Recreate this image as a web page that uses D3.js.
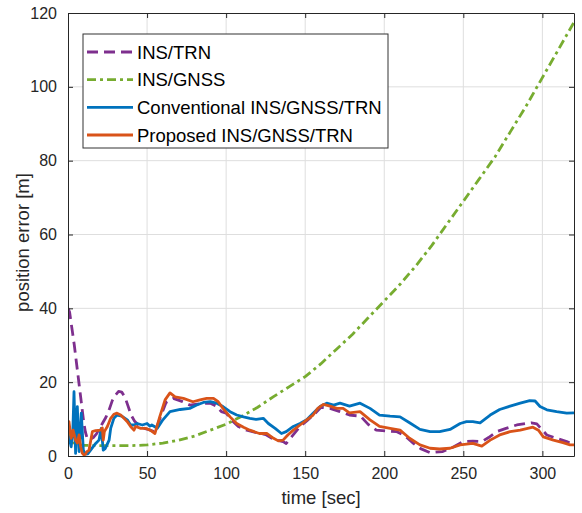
<!DOCTYPE html>
<html>
<head>
<meta charset="utf-8">
<script src="https://cdn.jsdelivr.net/npm/d3@7"></script>
<style>
  html, body { margin: 0; padding: 0; background: #fff; }
  svg { display: block; font-family: "Liberation Sans", Arial, Helvetica, sans-serif; }
</style>
</head>
<body>
<div id="chart"></div>
<script>
// Series (time in sec, error in m)
const SERIES_NAMES = ["INS/TRN", "INS/GNSS", "Conventional INS/GNSS/TRN", "Proposed INS/GNSS/TRN"];

const trnT = [0, 1, 2, 3, 4, 5, 6, 7, 8, 9, 10, 11, 12, 14, 16, 18, 20, 22, 24, 26, 28, 30, 32, 34, 36, 38, 40, 42, 46, 50, 55, 58, 62, 66.6, 72, 77, 84, 90, 94, 97, 100, 104, 107.7, 113, 119.3, 125, 130, 136, 138, 142, 146.7, 151, 155, 160, 165.7, 172, 178, 185, 190, 195, 201, 208, 213, 218.5, 223, 229, 237, 244, 250, 256, 261.7, 266, 271, 277, 283.8, 293, 296.5, 302.8, 309, 315.4, 320];
const trnV = [40, 39, 36, 33, 30, 26.5, 23, 19.5, 16, 12.5, 9, 6.5, 5, 4.5, 5, 6, 7.5, 9, 10.5, 12.5, 15, 16.5, 17.5, 17.3, 16, 13.5, 11, 9.5, 7.8, 7.3, 6.5, 10, 14.5, 15.6, 14.8, 13.8, 14.2, 14.3, 13.5, 12, 11.6, 9.5, 8, 7, 6.3, 5.8, 4.5, 3.9, 3.4, 5.5, 8, 9.5, 11, 13.2, 12.9, 12, 11.1, 10.8, 8.5, 7, 6.8, 6.6, 5.5, 3.4, 2, 0.9, 1.2, 2.5, 3.9, 4, 3.9, 5, 6.6, 7.5, 8.4, 9, 8.7, 5.7, 4.8, 3.9, 3];

const gnssT = [0, 1, 2, 3, 4, 5, 7, 10, 20, 30, 40, 50, 60, 70, 80, 90, 100, 110, 120, 130, 140, 150, 160, 170, 180, 190, 200, 210, 220, 230, 240, 250, 260, 270, 280, 290, 300, 310, 320];
const gnssV = [7, 6, 5, 4, 3.5, 3.2, 3, 2.9, 2.8, 2.8, 2.8, 3, 3.5, 4.3, 5.4, 7, 8.6, 10.8, 13.2, 16.1, 18.8, 21.5, 25, 29, 33, 37.5, 42, 46.5, 51.5, 57, 63, 69, 75, 81, 88, 95, 102.5, 110, 117.5];

const convT = [0, 0.6, 2, 3, 3.8, 4.8, 5.9, 7, 8.4, 9.7, 11, 12.5, 14.3, 17.5, 19.6, 21, 22.3, 23.5, 26, 27, 29, 31, 34, 37.5, 39.6, 41.7, 43.8, 47, 50, 51.8, 53, 56.5, 60, 64.5, 71, 77, 81.4, 85.6, 90, 94, 98, 102.5, 106.7, 111, 115, 119, 123.5, 126.7, 131, 135, 138, 142.5, 146.7, 151, 155, 159.4, 163.6, 168, 172, 178, 184.7, 191, 197, 203.7, 210, 216, 222.6, 229, 235, 241.6, 248, 252, 256, 260.6, 267, 273, 279.6, 286, 292, 295.4, 298.5, 302.8, 309, 315.4, 320];
const convV = [4, 5.2, 2.5, 6, 17.4, 0.7, 13.4, 1.2, 11.6, 1.6, 0.5, 0.6, 1.6, 3.4, 4.3, 7.5, 1.6, 2, 4.3, 7.5, 10.2, 11.1, 10.8, 9.8, 8.4, 8.4, 8.8, 8.4, 8.8, 8.1, 8.4, 7.5, 9.8, 12, 12.6, 12.9, 13.8, 14.5, 14.7, 14.3, 13.4, 12, 11.1, 10.6, 10.2, 9.9, 10.2, 8.8, 7.5, 6.1, 6.6, 8, 8.8, 9.8, 11.6, 13.4, 14.3, 13.8, 14.3, 13.5, 14.3, 12.9, 11.1, 10.8, 10.6, 9, 7.2, 6.6, 6.6, 7.2, 8.8, 9.3, 9.3, 9, 11.1, 12.6, 13.5, 14.3, 15, 14.9, 13.4, 12.5, 12, 11.6, 11.7];

const propT = [0, 0.6, 2, 3.2, 4.8, 5.9, 7, 8, 9, 10, 11, 12, 13.3, 15.4, 17.5, 20.6, 21.7, 22.3, 23, 24.9, 27, 29, 31, 33.3, 35.4, 37.5, 39.6, 41.7, 42.8, 46, 49, 52, 55, 58, 61.4, 64.5, 67.7, 73, 79, 83.5, 87.7, 92, 95, 98, 102.5, 106.7, 111, 115, 121, 125.7, 130, 133, 136, 139, 142.5, 146.7, 151, 155, 158, 161.5, 165.7, 170, 174, 178, 184.7, 191, 197, 203.7, 210, 216, 222.6, 229, 235, 241.6, 248, 252, 256, 261.7, 267, 273, 279.6, 286, 294, 297.5, 300.6, 307, 313, 317.5, 320];
const propV = [9, 9.3, 4.8, 7, 4.3, 3.5, 5.7, 2.5, 0.8, 0.3, 0.5, 1.2, 1.6, 6.6, 6.9, 7, 7.6, 4.3, 6.6, 8, 10.2, 11.3, 11.6, 11.1, 10.2, 9.3, 8, 7, 8, 7.5, 7.5, 7, 6.1, 10.6, 15.2, 17.1, 16, 15.6, 14.7, 15.2, 15.6, 15.6, 14.7, 12.9, 10.6, 8.8, 7.8, 7, 6.1, 6.1, 4.8, 4.1, 4.3, 5.7, 7, 8.4, 9.8, 11.1, 12.9, 14, 13.5, 12.9, 12.9, 11.7, 12, 9.8, 8, 7.5, 7, 4.8, 3, 2.1, 1.9, 2.1, 3, 3.2, 3.4, 2.7, 4.3, 5.7, 6.6, 7, 7.8, 7, 5.2, 4.3, 3.6, 3, 3];

const xTicks = [0, 50, 100, 150, 200, 250, 300];
const yTicks = [0, 20, 40, 60, 80, 100, 120];

const W = 582, H = 513;
const margin = { top: 13, right: 8, bottom: 57, left: 68 };
const innerW = W - margin.left - margin.right;
const innerH = H - margin.top - margin.bottom;

const series = [
  { name: SERIES_NAMES[0], t: trnT, v: trnV, color: "#7E2F8E", dash: "11,6" },
  { name: SERIES_NAMES[1], t: gnssT, v: gnssV, color: "#77AC30", dash: "9,4,3,4" },
  { name: SERIES_NAMES[2], t: convT, v: convV, color: "#0072BD", dash: null },
  { name: SERIES_NAMES[3], t: propT, v: propV, color: "#D95319", dash: null }
];

const svg = d3.select("#chart").append("svg")
  .attr("width", W)
  .attr("height", H);

const g = svg.append("g")
  .attr("transform", `translate(${margin.left},${margin.top})`);

const x = d3.scaleLinear().domain([0, 320]).range([0, innerW]);
const y = d3.scaleLinear().domain([0, 120]).range([innerH, 0]);

const axisColor = "#262626";
const gridColor = "#dedede";

// grid
g.append("g")
  .selectAll("line")
  .data(xTicks.filter(d => d > 0))
  .join("line")
    .attr("x1", d => x(d)).attr("x2", d => x(d))
    .attr("y1", 0).attr("y2", innerH)
    .attr("stroke", gridColor).attr("stroke-width", 1);
g.append("g")
  .selectAll("line")
  .data(yTicks.filter(d => d > 0 && d < 120))
  .join("line")
    .attr("x1", 0).attr("x2", innerW)
    .attr("y1", d => y(d)).attr("y2", d => y(d))
    .attr("stroke", gridColor).attr("stroke-width", 1);

g.append("clipPath").attr("id", "clip")
  .append("rect").attr("width", innerW).attr("height", innerH);

// lines
const line = d3.line()
  .x(d => x(d[0]))
  .y(d => y(d[1]));

const plot = g.append("g").attr("clip-path", "url(#clip)");
series.forEach(s => {
  plot.append("path")
    .datum(s.t.map((t, i) => [t, s.v[i]]))
    .attr("fill", "none")
    .attr("stroke", s.color)
    .attr("stroke-width", 2.8)
    .attr("stroke-linejoin", "round")
    .attr("stroke-dasharray", s.dash)
    .attr("d", line);
});

// axes (ticks point inward, box on)
const styleAxis = ax => {
  ax.select(".domain").attr("stroke", axisColor);
  ax.selectAll(".tick line").attr("stroke", axisColor);
  ax.selectAll(".tick text")
    .attr("fill", axisColor)
    .attr("font-size", 16)
    .attr("font-family", "Liberation Sans, Arial, sans-serif");
};

g.append("g")
  .attr("transform", `translate(0,${innerH})`)
  .call(d3.axisBottom(x).tickValues(xTicks).tickSize(-5).tickPadding(12).tickSizeOuter(0))
  .call(styleAxis);
g.append("g")
  .call(d3.axisTop(x).tickValues(xTicks).tickSize(-5).tickSizeOuter(0).tickFormat(""))
  .call(styleAxis);
g.append("g")
  .call(d3.axisLeft(y).tickValues(yTicks).tickSize(-5).tickPadding(11).tickSizeOuter(0))
  .call(styleAxis);
g.append("g")
  .attr("transform", `translate(${innerW},0)`)
  .call(d3.axisRight(y).tickValues(yTicks).tickSize(-5).tickSizeOuter(0).tickFormat(""))
  .call(styleAxis);

// axis labels
svg.append("text")
  .attr("x", margin.left + innerW / 2)
  .attr("y", 504)
  .attr("text-anchor", "middle")
  .attr("font-size", 18.5)
  .attr("fill", axisColor)
  .text("time [sec]");

svg.append("text")
  .attr("transform", `translate(29,${margin.top + innerH / 2 + 8}) rotate(-90)`)
  .attr("text-anchor", "middle")
  .attr("font-size", 18.5)
  .attr("fill", axisColor)
  .text("position error [m]");

// legend
const legend = svg.append("g").attr("transform", "translate(83,34)");
legend.append("rect")
  .attr("width", 305).attr("height", 114)
  .attr("fill", "#fff")
  .attr("stroke", "#333").attr("stroke-width", 1);

const rowY = d3.scalePoint().domain(SERIES_NAMES).range([18, 101]);
series.forEach(s => {
  const row = legend.append("g").attr("transform", `translate(0,${rowY(s.name)})`);
  row.append("line")
    .attr("x1", 4).attr("x2", 50)
    .attr("stroke", s.color)
    .attr("stroke-width", 2.8)
    .attr("stroke-dasharray", s.dash);
  row.append("text")
    .attr("x", 54)
    .attr("dy", "0.36em")
    .attr("font-size", 18.5)
    .attr("fill", "#000")
    .text(s.name);
});
</script>
</body>
</html>
